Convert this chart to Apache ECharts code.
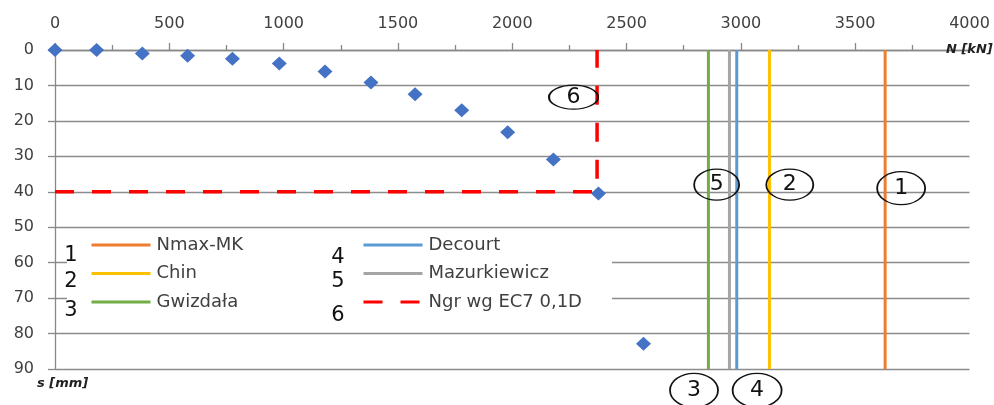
<!DOCTYPE html>
<html>
<head>
<meta charset="utf-8">
<script src="https://cdn.jsdelivr.net/npm/echarts@6/dist/echarts.min.js"></script>
<style>html,body{margin:0;padding:0;background:#fff}#c{width:994px;height:405px}</style>
</head>
<body>
<div id="c"></div>
<script>
// ---- data ----
var xTicks = [0, 500, 1000, 1500, 2000, 2500, 3000, 3500, 4000];
var yTicks = [0, 10, 20, 30, 40, 50, 60, 70, 80, 90];
var loadN = [0, 182, 382, 580, 776, 981, 1181, 1382, 1575, 1779, 1980, 2180, 2377, 2574];
var settleS = [0, 0, 1.0, 1.6, 2.5, 3.8, 6.1, 9.2, 12.5, 17.0, 23.2, 30.9, 40.5, 82.9];
var methodNames = ['Nmax-MK', 'Chin', 'Gwizdała', 'Decourt', 'Mazurkiewicz'];
var methodN = [3631, 3125, 2858, 2982, 2950];
var ngrName = 'Ngr wg EC7 0,1D';
var ngrN = 2371;
var ngrS = 40;
var annLabels = ['1', '2', '3', '4', '5', '6'];
var annN = [3701, 3214, 2795, 3071, 2894, 2268];
var annS = [39, 38, 96, 96, 38, 13.3];

// ---- styles ----
var methodColors = ['#ED7D31', '#FFC000', '#70AD47', '#5B9BD5', '#A5A5A5'];
var annSizes = [[48, 33], [47, 31], [48, 34], [49, 34], [45, 31], [49, 24]];
var textColor = '#404040';
var font = 'DejaVu Sans';

var series = [];
methodNames.forEach(function (nm, i) {
  series.push({
    name: nm, type: 'line', symbol: 'none', z: i === 4 ? 4 : 3,
    data: [[methodN[i], yTicks[0]], [methodN[i], yTicks[yTicks.length - 1]]],
    lineStyle: { color: methodColors[i], width: 3 },
    itemStyle: { color: methodColors[i] }
  });
});
series.push({
  name: ngrName, type: 'line', symbol: 'none', z: 3,
  data: [[xTicks[0], ngrS], [ngrN, ngrS], [ngrN, yTicks[0]]],
  lineStyle: { color: '#FF0000', width: 3.5, type: [19, 18] },
  itemStyle: { color: '#FF0000' }
});
series.push({
  name: 'pomiar', type: 'scatter', symbol: 'diamond', symbolSize: [15, 14], z: 5,
  data: loadN.map(function (n, i) { return [n, settleS[i]]; }),
  itemStyle: { color: '#4472C4', opacity: 1 }
});
series.push({
  name: 'ann', type: 'scatter', silent: true, clip: false, z: 6,
  symbol: 'path://M0,50 A50,50 0 1,1 100,50 A50,50 0 1,1 0,50 Z',
  symbolKeepAspect: false,
  data: annLabels.map(function (l, i) {
    return { name: l, value: [annN[i], annS[i]], symbolSize: annSizes[i] };
  }),
  itemStyle: { color: 'rgba(0,0,0,0)', borderColor: '#111', borderWidth: 1.5, opacity: 1 },
  label: { show: true, position: 'inside', formatter: '{b}', color: '#111', fontSize: 22, fontFamily: font, textBorderWidth: 0 }
});

var numTexts = [
  { t: '1', x: 71, y: 256 }, { t: '2', x: 71, y: 282 }, { t: '3', x: 71, y: 311 },
  { t: '4', x: 338, y: 258 }, { t: '5', x: 338, y: 282 }, { t: '6', x: 338, y: 316 }
];

var legendCommon = {
  orient: 'vertical', top: 235, padding: 0,
  itemWidth: 59, itemHeight: 14, itemGap: 8.5,
  itemStyle: { opacity: 0 },
  lineStyle: { width: 3 },
  textStyle: { color: textColor, fontSize: 18, lineHeight: 20, fontFamily: font, padding: [0, 0, 0, 1] }
};

var option = {
  backgroundColor: '#fff',
  animation: false,
  textStyle: { fontFamily: font },
  grid: { left: 55, right: 24.5, top: 50, bottom: 36 },
  xAxis: {
    type: 'value', position: 'top', min: xTicks[0], max: xTicks[xTicks.length - 1], interval: 500,
    axisLine: { show: true, lineStyle: { color: '#888', width: 1.3 } },
    axisTick: { show: true, length: 7, lineStyle: { color: '#888', width: 1.3 } },
    minorTick: { show: true, splitNumber: 2, length: 5, lineStyle: { color: '#888', width: 1.3 } },
    axisLabel: { color: textColor, fontSize: 16, margin: 18, fontFamily: font, formatter: function (v) { return String(v); } },
    splitLine: { show: false }
  },
  yAxis: {
    type: 'value', inverse: true, min: yTicks[0], max: yTicks[yTicks.length - 1], interval: 10,
    axisLine: { show: true, lineStyle: { color: '#888', width: 1.3 } },
    axisTick: { show: true, length: 7, lineStyle: { color: '#888', width: 1.3 } },
    axisLabel: { color: textColor, fontSize: 16, margin: 21, fontFamily: font, formatter: function (v) { return String(v); } },
    splitLine: { show: true, lineStyle: { color: '#8c8c8c', width: 1.3 } }
  },
  legend: [
    Object.assign({ data: methodNames.slice(0, 3), left: 90 }, legendCommon),
    Object.assign({ data: methodNames.slice(3).concat([ngrName]), left: 362 }, legendCommon)
  ],
  graphic: [
    { type: 'rect', z: 3, silent: true, shape: { x: 67, y: 233, width: 545, height: 92 }, style: { fill: '#fff' } },
    { type: 'text', z: 10, left: 946, top: 43, style: { text: 'N [kN]', fontSize: 13, fontWeight: 'bold', fontStyle: 'italic', fill: '#222', fontFamily: font } },
    { type: 'text', z: 10, left: 37, top: 377, style: { text: 's [mm]', fontSize: 13, fontWeight: 'bold', fontStyle: 'italic', fill: '#222', fontFamily: font } }
  ].concat(numTexts.map(function (o) {
    return { type: 'text', z: 10, x: o.x, y: o.y, style: { text: o.t, fontSize: 21, fill: '#111', fontFamily: font, align: 'center', verticalAlign: 'middle' } };
  })),
  series: series
};

var chart = echarts.init(document.getElementById('c'), null, { renderer: 'canvas' });
chart.setOption(option);
</script>
</body>
</html>
